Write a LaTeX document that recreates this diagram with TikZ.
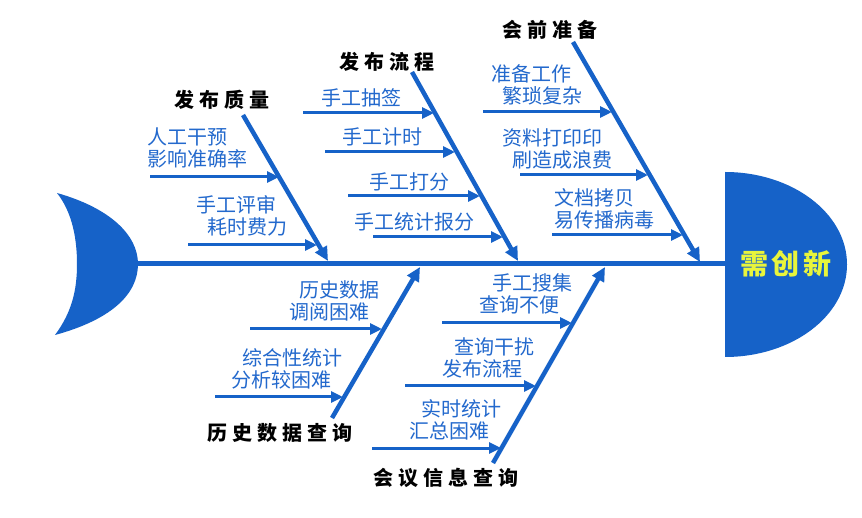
\documentclass[tikz,border=0pt]{standalone}
\usepackage{fontspec}
\newfontfamily\cjk{Noto Sans CJK SC}
\newfontfamily\cjktitle[LetterSpace=25]{Noto Sans CJK SC}
\newfontfamily\cjkhead[LetterSpace=12]{Noto Sans CJK SC}
\usetikzlibrary{arrows.meta}
\definecolor{fishblue}{RGB}{22,98,200}
\definecolor{labelblue}{RGB}{35,105,205}
\definecolor{headyellow}{RGB}{232,245,60}
\begin{document}
\begin{tikzpicture}[x=1pt,y=-1pt,
  bone/.style={draw=fishblue,line width=4.5pt,-{Triangle[length=14pt,width=13pt]}},
  rib/.style={draw=fishblue,line width=3pt,-{Triangle[length=12pt,width=11pt]}},
  lbl/.style={text=labelblue,font=\cjk\fontsize{20}{22}\selectfont,inner sep=0pt,align=left,anchor=west},
  ttl/.style={text=black,font=\cjktitle\bfseries\fontsize{20}{22}\selectfont,inner sep=0pt},
  headtxt/.style={text=headyellow,font=\cjkhead\bfseries\fontsize{28}{30}\selectfont,inner sep=0pt}
]
\useasboundingbox[fill=white] (0,0) rectangle (862,518);

% tail
\fill[fishblue] (57,193) .. controls (110,208) and (138,235) .. (138,264)
  .. controls (138,295) and (110,320) .. (55,335)
  .. controls (72,312) and (77,290) .. (77,264)
  .. controls (77,238) and (72,212) .. (57,193) -- cycle;
% head
\fill[fishblue] (725,172) .. controls (792,172) and (847,213) .. (847,264.5)
  .. controls (847,316) and (792,357) .. (725,357) -- cycle;
\node[headtxt] (head) at (786,264) {需创新};

% spine
\coordinate (tailr) at (136,264);
\coordinate (headl) at (726,264);
\draw[fishblue,line width=5pt] (tailr) -- (headl);

% ---------- bone 1: 发布质量
\node[ttl] (t1) at (222,100) {发布质量};
\coordinate (b1s) at (243,115);
\coordinate (b1e) at (328,261);
\draw[bone] (b1s) -- (b1e);
\node[lbl] (l11) at (147,148) {人工干预\\影响准确率};
\coordinate (r11s) at (150,177); \coordinate (r11e) at (279,177);
\draw[rib] (r11s) -- (r11e);
\node[lbl] (l12) at (196,216) {手工评审\\\hspace*{11pt}耗时费力};
\coordinate (r12s) at (188,245); \coordinate (r12e) at (317,245);
\draw[rib] (r12s) -- (r12e);

% ---------- bone 2: 发布流程
\node[ttl] (t2) at (387,62) {发布流程};
\coordinate (b2s) at (412,72);
\coordinate (b2e) at (518,261);
\draw[bone] (b2s) -- (b2e);
\node[lbl] (l21) at (321,98) {手工抽签};
\coordinate (r21s) at (303,113); \coordinate (r21e) at (434,113);
\draw[rib] (r21s) -- (r21e);
\node[lbl] (l22) at (342,137) {手工计时};
\coordinate (r22s) at (325,152); \coordinate (r22e) at (455,152);
\draw[rib] (r22s) -- (r22e);
\node[lbl] (l23) at (369,182) {手工打分};
\coordinate (r23s) at (348,196); \coordinate (r23e) at (480,196);
\draw[rib] (r23s) -- (r23e);
\node[lbl] (l24) at (354,222) {手工统计报分};
\coordinate (r24s) at (373,237); \coordinate (r24e) at (503,237);
\draw[rib] (r24s) -- (r24e);

% ---------- bone 3: 会前准备
\node[ttl] (t3) at (550,30) {会前准备};
\coordinate (b3s) at (573,42);
\coordinate (b3e) at (700,262);
\draw[bone] (b3s) -- (b3e);
\node[lbl] (l31) at (491,85) {准备工作\\\hspace*{11pt}繁琐复杂};
\coordinate (r31s) at (483,112); \coordinate (r31e) at (612,112);
\draw[rib] (r31s) -- (r31e);
\node[lbl] (l32) at (502,148.5) {资料打印印\\\hspace*{10pt}刷造成浪费};
\coordinate (r32s) at (520,175); \coordinate (r32e) at (648,175);
\draw[rib] (r32s) -- (r32e);
\node[lbl] (l33) at (554,209) {文档拷贝\\易传播病毒};
\coordinate (r33s) at (552,235); \coordinate (r33e) at (683,235);
\draw[rib] (r33s) -- (r33e);

% ---------- bone 4: 历史数据查询
\node[ttl] (t4) at (280,433) {历史数据查询};
\coordinate (b4s) at (332,418);
\coordinate (b4e) at (420,267);
\draw[bone] (b4s) -- (b4e);
\node[lbl] (l41) at (289,301) {\hspace*{10pt}历史数据\\调阅困难};
\coordinate (r41s) at (250,329); \coordinate (r41e) at (382,329);
\draw[rib] (r41s) -- (r41e);
\node[lbl] (l42) at (231,369) {\hspace*{11pt}综合性统计\\分析较困难};
\coordinate (r42s) at (215,397); \coordinate (r42e) at (343,397);
\draw[rib] (r42s) -- (r42e);

% ---------- bone 5: 会议信息查询
\node[ttl] (t5) at (446,478) {会议信息查询};
\coordinate (b5s) at (493,463);
\coordinate (b5e) at (605,267);
\draw[bone] (b5s) -- (b5e);
\node[lbl] (l51) at (479,294) {\hspace*{13pt}手工搜集\\查询不便};
\coordinate (r51s) at (442,323); \coordinate (r51e) at (572,323);
\draw[rib] (r51s) -- (r51e);
\node[lbl] (l52) at (442,358) {\hspace*{12pt}查询干扰\\发布流程};
\coordinate (r52s) at (405,386); \coordinate (r52e) at (536,386);
\draw[rib] (r52s) -- (r52e);
\node[lbl] (l53) at (409,420) {\hspace*{12pt}实时统计\\汇总困难};
\coordinate (r53s) at (372,448); \coordinate (r53e) at (501,448);
\draw[rib] (r53s) -- (r53e);
\end{tikzpicture}
\end{document}
